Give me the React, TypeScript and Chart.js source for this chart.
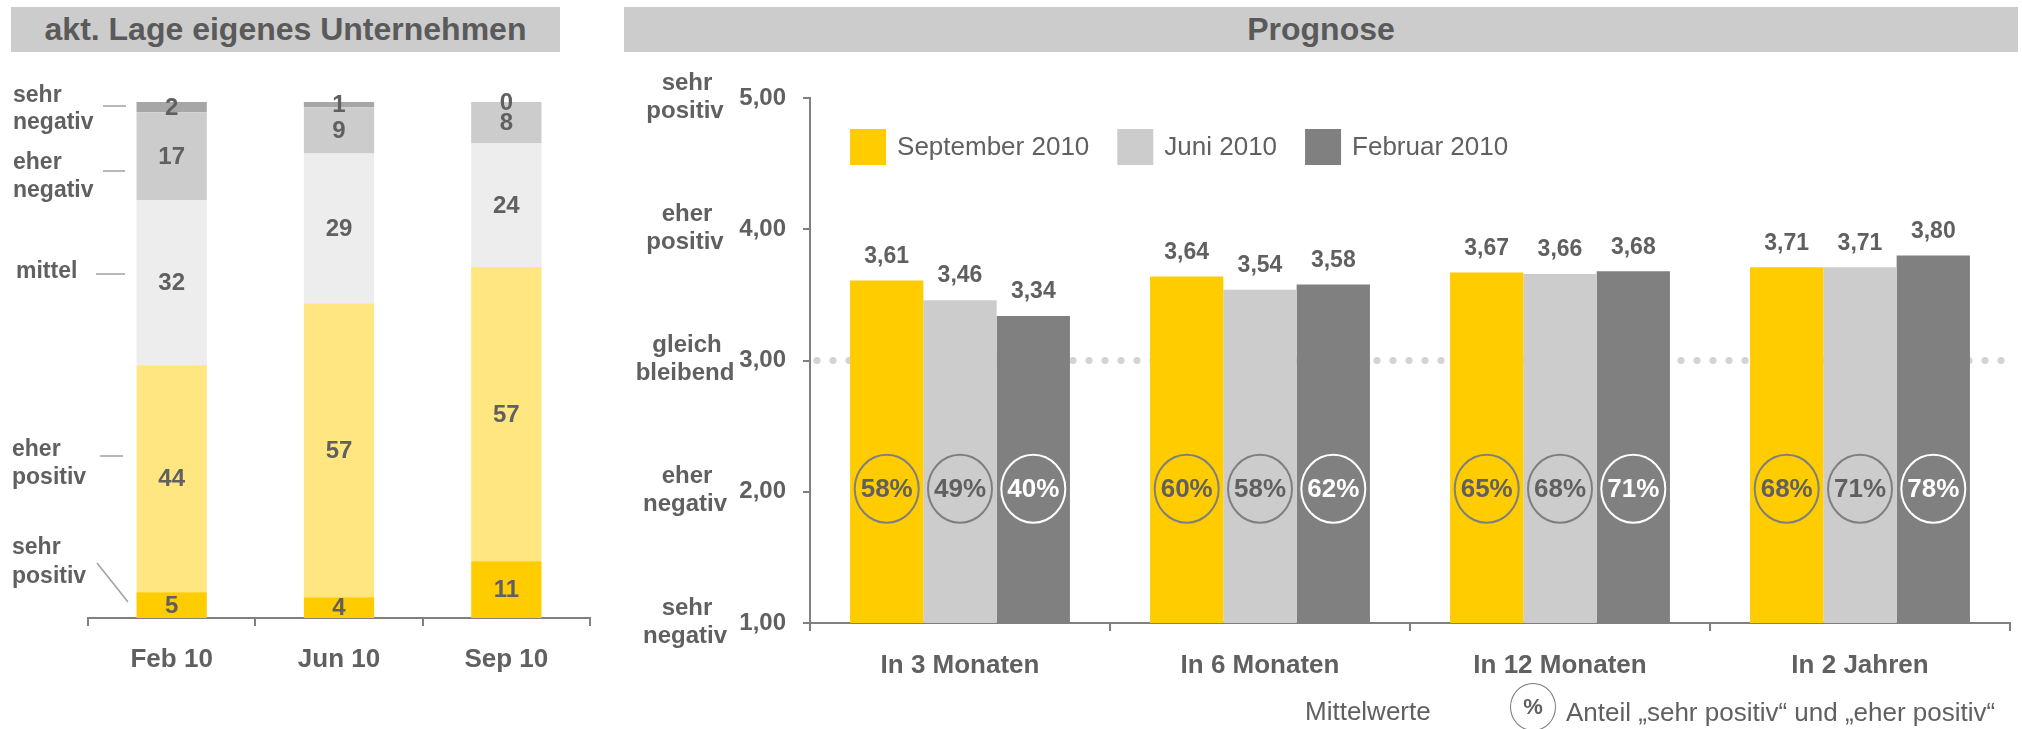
import React, { useEffect, useRef } from 'react';
import { Chart, registerables } from 'chart.js';

Chart.register(...registerables);

// ---------- Data ----------
const lageCategories = ['Feb 10', 'Jun 10', 'Sep 10'];
const lageSehrPositiv = [5, 4, 11];
const lageEherPositiv = [44, 57, 57];
const lageMittel = [32, 29, 24];
const lageEherNegativ = [17, 9, 8];
const lageSehrNegativ = [2, 1, 0];

const prognoseCategories = ['In 3 Monaten', 'In 6 Monaten', 'In 12 Monaten', 'In 2 Jahren'];
const september2010 = [3.61, 3.64, 3.67, 3.71];
const juni2010 = [3.46, 3.54, 3.66, 3.71];
const februar2010 = [3.34, 3.58, 3.68, 3.8];
const anteilSeptember = [58, 60, 65, 68];
const anteilJuni = [49, 58, 68, 71];
const anteilFebruar = [40, 62, 71, 78];

const yTickValues = [5, 4, 3, 2, 1];
const yTickDescriptors = [['sehr', 'positiv'], ['eher', 'positiv'], ['gleich', 'bleibend'], ['eher', 'negativ'], ['sehr', 'negativ']];

// ---------- Styles ----------
const FONT = '"Liberation Sans", Arial, sans-serif';
const TEXT = '#606060';
const AXIS = '#808080';
const YELLOW = '#FFCC00';
const LIGHT_YELLOW = '#FFE680';
const VERY_LIGHT = '#EDEDED';
const LIGHT_GREY = '#CCCCCC';
const MID_GREY = '#A6A6A6';
const DARK_GREY = '#808080';

const fmt = (v: number) => v.toFixed(2).replace('.', ',');

function LeftChart() {
  const ref = useRef<HTMLCanvasElement | null>(null);
  useEffect(() => {
    if (!ref.current) return;
    const labelsPlugin = {
      id: 'lageLabels',
      afterDatasetsDraw(chart: any) {
        const ctx = chart.ctx;
        ctx.save();
        ctx.fillStyle = TEXT;
        ctx.font = `bold 24px ${FONT}`;
        ctx.textAlign = 'center';
        ctx.textBaseline = 'middle';
        chart.data.datasets.forEach((ds: any, i: number) => {
          const meta = chart.getDatasetMeta(i);
          meta.data.forEach((el: any, j: number) => {
            const y = (el.y + el.base) / 2;
            ctx.fillText(String(ds.data[j]), el.x, y + 1);
          });
        });
        // descriptors on the left
        ctx.textAlign = 'left';
        const desc: [string, number, number][] = [
          ['sehr', 13, 96], ['negativ', 13, 123],
          ['eher', 13, 163], ['negativ', 13, 191],
          ['mittel', 16, 272],
          ['eher', 12, 450], ['positiv', 12, 478],
          ['sehr', 12, 548], ['positiv', 12, 577],
        ];
        ctx.font = `bold 23px ${FONT}`;
        desc.forEach(([t, x, y]) => ctx.fillText(t, x, y));
        ctx.strokeStyle = '#A0A0A0';
        ctx.lineWidth = 1.5;
        const lines: [number, number, number, number][] = [
          [103, 106, 126, 106],
          [103, 171, 125, 171],
          [96, 274, 125, 274],
          [100, 456, 123, 456],
          [97, 563, 128, 602],
        ];
        lines.forEach(([x1, y1, x2, y2]) => {
          ctx.beginPath();
          ctx.moveTo(x1, y1);
          ctx.lineTo(x2, y2);
          ctx.stroke();
        });
        ctx.restore();
      },
    };
    const chart = new Chart(ref.current, {
      type: 'bar',
      data: {
        labels: lageCategories,
        datasets: [
          { label: 'sehr positiv', data: lageSehrPositiv, backgroundColor: YELLOW },
          { label: 'eher positiv', data: lageEherPositiv, backgroundColor: LIGHT_YELLOW },
          { label: 'mittel', data: lageMittel, backgroundColor: VERY_LIGHT },
          { label: 'eher negativ', data: lageEherNegativ, backgroundColor: LIGHT_GREY },
          { label: 'sehr negativ', data: lageSehrNegativ, backgroundColor: MID_GREY },
        ],
      },
      options: {
        responsive: false,
        animation: false,
        datasets: { bar: { categoryPercentage: 0.42, barPercentage: 1 } },
        layout: { padding: { left: 88, right: 10, top: 102, bottom: 0 } },
        plugins: { legend: { display: false }, tooltip: { enabled: false } },
        scales: {
          x: {
            stacked: true,
            grid: { offset: true, drawOnChartArea: false, drawTicks: true, tickLength: 8, color: AXIS, lineWidth: 2 },
            border: { display: true, color: AXIS, width: 2 },
            ticks: { color: TEXT, font: { family: FONT, size: 26, weight: 'bold' }, padding: 18 },
            afterFit: (s: any) => { s.height = 111; },
          },
          y: { stacked: true, display: false, min: 0, max: 100 },
        },
      },
      plugins: [labelsPlugin],
    } as any);
    return () => chart.destroy();
  }, []);
  return <canvas ref={ref} width={600} height={729} style={{ position: 'absolute', left: 0, top: 0, width: 600, height: 729 }} />;
}

function RightChart() {
  const ref = useRef<HTMLCanvasElement | null>(null);
  useEffect(() => {
    if (!ref.current) return;
    const dotsPlugin = {
      id: 'dots',
      beforeDatasetsDraw(chart: any) {
        const ctx = chart.ctx;
        const y = chart.scales.y.getPixelForValue(3);
        const { left, right } = chart.chartArea;
        ctx.save();
        ctx.fillStyle = '#D3D3D3';
        for (let x = left + 7; x <= right + 3; x += 16) {
          ctx.beginPath();
          ctx.arc(x, y, 3.6, 0, Math.PI * 2);
          ctx.fill();
        }
        ctx.restore();
      },
    };
    const shares = [anteilSeptember, anteilJuni, anteilFebruar];
    const annotPlugin = {
      id: 'annot',
      afterDatasetsDraw(chart: any) {
        const ctx = chart.ctx;
        const ys = chart.scales.y;
        ctx.save();
        ctx.textAlign = 'center';
        ctx.textBaseline = 'middle';
        chart.data.datasets.forEach((ds: any, i: number) => {
          const meta = chart.getDatasetMeta(i);
          meta.data.forEach((el: any, j: number) => {
            ctx.fillStyle = TEXT;
            ctx.font = `bold 23px ${FONT}`;
            ctx.fillText(fmt(ds.data[j]), el.x, el.y - 24);
            // circle
            const cy = ys.getPixelForValue(2) - 3;
            const dark = i === 2;
            ctx.beginPath();
            ctx.ellipse(el.x, cy, 32, 34, 0, 0, Math.PI * 2);
            ctx.strokeStyle = dark ? '#FFFFFF' : '#7F7F7F';
            ctx.lineWidth = 2;
            ctx.stroke();
            ctx.fillStyle = dark ? '#FFFFFF' : TEXT;
            ctx.font = `bold 26px ${FONT}`;
            ctx.fillText(shares[i][j] + '%', el.x, cy + 1);
          });
        });
        // y descriptors
        ctx.fillStyle = TEXT;
        ctx.font = `bold 24px ${FONT}`;
        yTickValues.forEach((v, k) => {
          const y = ys.getPixelForValue(v);
          const [a, b] = yTickDescriptors[k];
          ctx.fillText(a, 87, y - 15);
          ctx.fillText(b, 85, y + 13);
        });
        // legend
        const first = chart.getDatasetMeta(0).data[0];
        let x = first.x - first.width / 2;
        const top = 129;
        ctx.textAlign = 'left';
        ctx.font = `26px ${FONT}`;
        chart.data.datasets.forEach((ds: any) => {
          ctx.fillStyle = ds.backgroundColor;
          ctx.fillRect(x, top, 36, 36);
          ctx.fillStyle = TEXT;
          ctx.fillText(ds.label, x + 47, top + 19);
          x += 47 + ctx.measureText(ds.label).width + 28;
        });
        ctx.restore();
      },
    };
    const chart = new Chart(ref.current, {
      type: 'bar',
      data: {
        labels: prognoseCategories,
        datasets: [
          { label: 'September 2010', data: september2010, backgroundColor: YELLOW },
          { label: 'Juni 2010', data: juni2010, backgroundColor: LIGHT_GREY },
          { label: 'Februar 2010', data: februar2010, backgroundColor: DARK_GREY },
        ],
      },
      options: {
        responsive: false,
        animation: false,
        datasets: { bar: { categoryPercentage: 0.733, barPercentage: 1 } },
        layout: { padding: { left: 0, right: 12, top: 98, bottom: 0 } },
        plugins: { legend: { display: false }, tooltip: { enabled: false } },
        scales: {
          x: {
            grid: { offset: true, drawOnChartArea: false, drawTicks: true, tickLength: 8, color: AXIS, lineWidth: 2 },
            border: { display: true, color: AXIS, width: 2 },
            ticks: { color: TEXT, font: { family: FONT, size: 26, weight: 'bold' }, padding: 19 },
            afterFit: (s: any) => { s.height = 106; },
          },
          y: {
            min: 1,
            max: 5,
            grid: { drawOnChartArea: false, drawTicks: true, tickLength: 7, color: AXIS, lineWidth: 2 },
            border: { display: true, color: AXIS, width: 2 },
            ticks: { stepSize: 1, color: TEXT, font: { family: FONT, size: 24, weight: 'bold' }, padding: 17, callback: (v: any) => fmt(Number(v)) },
            afterFit: (s: any) => { s.width = 210; },
          },
        },
      },
      plugins: [dotsPlugin, annotPlugin],
    } as any);
    return () => chart.destroy();
  }, []);
  return <canvas ref={ref} width={1422} height={729} style={{ position: 'absolute', left: 600, top: 0, width: 1422, height: 729 }} />;
}

export default function App() {
  useEffect(() => {
    document.body.style.margin = '0';
  }, []);
  const titleStyle: React.CSSProperties = {
    position: 'absolute',
    top: 7,
    height: 45,
    lineHeight: '45px',
    background: '#CCCCCC',
    color: '#5A5A5A',
    fontFamily: FONT,
    fontWeight: 'bold',
    fontSize: 32,
    textAlign: 'center',
  };
  const legendText: React.CSSProperties = {
    position: 'absolute',
    fontFamily: FONT,
    fontSize: 26,
    color: TEXT,
    lineHeight: '30px',
    whiteSpace: 'nowrap',
  };
  return (
    <div style={{ position: 'relative', width: 2022, height: 729, overflow: 'hidden', background: '#FFFFFF' }}>
      <LeftChart />
      <RightChart />
      <div style={{ ...titleStyle, left: 11, width: 549 }}>akt. Lage eigenes Unternehmen</div>
      <div style={{ ...titleStyle, left: 624, width: 1394 }}>Prognose</div>
      <div style={{ ...legendText, left: 1305, top: 696 }}>Mittelwerte</div>
      <div style={{ position: 'absolute', left: 1510, top: 683, width: 46, height: 48, borderRadius: '50%', border: '1.5px solid #7A7A7A', boxSizing: 'border-box', textAlign: 'center', lineHeight: '45px', fontFamily: FONT, fontWeight: 'bold', fontSize: 22, color: TEXT }}>%</div>
      <div style={{ ...legendText, left: 1566, top: 697 }}>Anteil „sehr positiv“ und „eher positiv“</div>
    </div>
  );
}
